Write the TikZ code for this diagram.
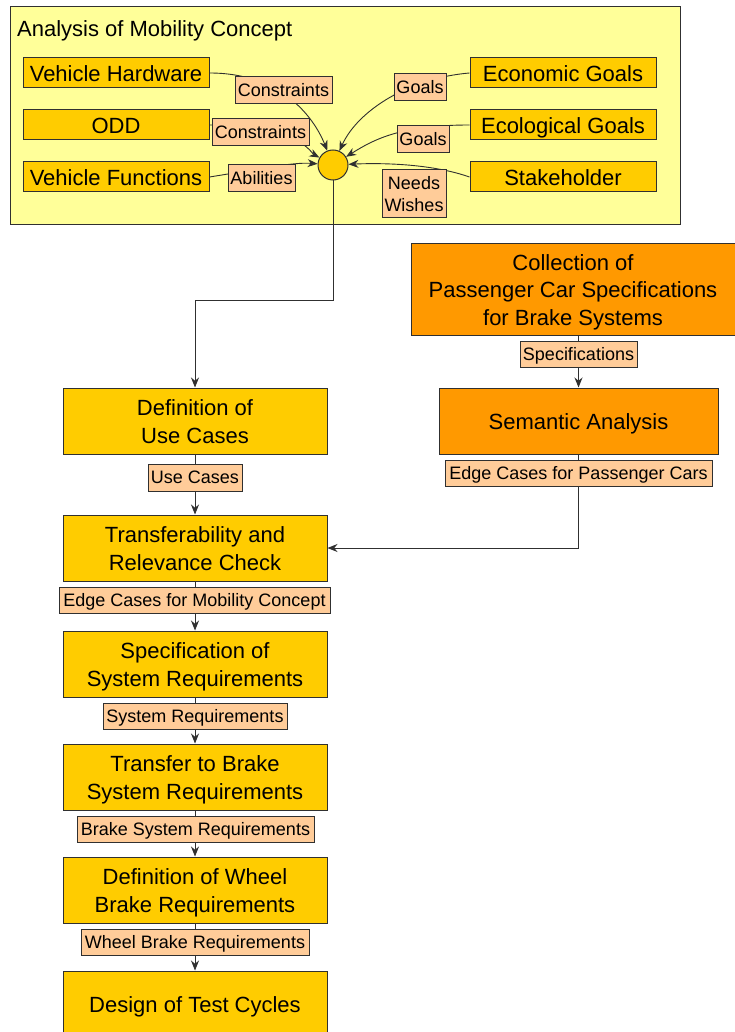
\documentclass[tikz,border=0pt]{standalone}
\usepackage{fontspec}
\setmainfont{Liberation Sans}
\usetikzlibrary{arrows.meta,calc}
\definecolor{panel}{HTML}{FFFF99}
\definecolor{gold}{HTML}{FFCC00}
\definecolor{peach}{HTML}{FFCC99}
\definecolor{amber}{HTML}{FF9900}
\definecolor{ink}{HTML}{303030}
\pgfdeclarelayer{back}
\pgfdeclarelayer{edges}
\pgfsetlayers{back,edges,main}
% centred lines, set slightly below the geometric middle of their box
\newcommand\boxtxt[1]{\raisebox{-3pt}[\height][\depth]{\begin{tabular}{@{}c@{}}#1\end{tabular}}}
\newcommand\tagtxt[1]{\raisebox{-2pt}[\height][\depth]{\begin{tabular}{@{}c@{}}#1\end{tabular}}}

\begin{document}
\begin{tikzpicture}[x=1pt,y=-1pt,
  procbox/.style={draw=ink, line width=1pt, fill=gold, inner sep=1pt,
    font=\fontsize{22}{27.5}\selectfont},
  specbox/.style={procbox, fill=amber},
  flowtag/.style={draw=ink, line width=1pt, fill=peach, inner sep=2pt,
    font=\fontsize{18}{22}\selectfont},
  conn/.style={draw=ink, line width=0.9pt},
  arr/.style={conn, -{Stealth[length=10pt,width=8pt]}},
]
\useasboundingbox (0,0) rectangle (735,1032);

% ---- mobility concept panel ----
\begin{pgfonlayer}{back}
  \node[draw=ink, line width=1pt, fill=panel, minimum width=670pt, minimum height=218pt] (mc) at (345,116) {};
\end{pgfonlayer}
\node[anchor=base west, inner sep=0pt, font=\fontsize{22}{27.5}\selectfont] (title) at (17,36.5) {Analysis of Mobility Concept};

\node[procbox, minimum width=186pt, minimum height=30pt] (vh)  at (116,73)  {\boxtxt{Vehicle Hardware}};
\node[procbox, minimum width=186pt, minimum height=30pt] (odd) at (116,125) {\boxtxt{ODD}};
\node[procbox, minimum width=186pt, minimum height=30pt] (vf)  at (116,177) {\boxtxt{Vehicle Functions}};
\node[procbox, minimum width=186pt, minimum height=30pt] (eco) at (563,73)  {\boxtxt{Economic Goals}};
\node[procbox, minimum width=186pt, minimum height=30pt] (ecl) at (563,125) {\boxtxt{Ecological Goals}};
\node[procbox, minimum width=186pt, minimum height=30pt] (sh)  at (563,177) {\boxtxt{Stakeholder}};
\node[circle, draw=ink, line width=1pt, fill=gold, minimum size=30pt, inner sep=0pt] (dot) at (333,165) {};

% ---- process chain ----
\node[specbox, minimum width=324pt, minimum height=92pt] (coll) at (573,289)
  {\boxtxt{Collection of\\Passenger Car Specifications\\for Brake Systems}};
\node[specbox, minimum width=279pt, minimum height=66pt] (sem) at (578.5,421) {\boxtxt{Semantic Analysis}};

\node[procbox, minimum width=264pt, minimum height=66pt] (def) at (195,421)  {\boxtxt{Definition of\\Use Cases}};
\node[procbox, minimum width=264pt, minimum height=66pt] (tr)  at (195,548)  {\boxtxt{Transferability and\\Relevance Check}};
\node[procbox, minimum width=264pt, minimum height=66pt] (ssr) at (195,664)  {\boxtxt{Specification of\\System Requirements}};
\node[procbox, minimum width=264pt, minimum height=66pt] (tb)  at (195,777)  {\boxtxt{Transfer to Brake\\System Requirements}};
\node[procbox, minimum width=264pt, minimum height=66pt] (dw)  at (195,890)  {\boxtxt{Definition of Wheel\\Brake Requirements}};
\node[procbox, minimum width=264pt, minimum height=66pt] (dt)  at (195,1004) {\boxtxt{Design of Test Cycles}};

% ---- connectors ----
\begin{pgfonlayer}{edges}
  \draw[arr] (vh.east)  .. controls +(70,0)   and +(-20,-50) .. (dot);
  \draw[arr] (odd.east) .. controls +(90,0)   and +(-22,-12) .. (dot);
  \draw[arr] (vf.east)  .. controls +(50,-8)  and +(-40,-3)  .. (dot);
  \draw[arr] (eco.west) .. controls +(-60,5)  and +(25,-55)  .. (dot);
  \draw[arr] (ecl.west) .. controls +(-70,0)  and +(40,-25)  .. (dot);
  \draw[arr] (sh.west)  .. controls +(-40,-14) and +(45,-2)  .. (dot);

  \draw[arr] (dot.south) -- ++(0,120) -| (def.north);
  \draw[arr] (sem.north |- coll.south) -- (sem.north);
  \draw[arr] (sem.south) |- (tr.east);
  \draw[arr] (def.south) -- (tr.north);
  \draw[arr] (tr.south)  -- (ssr.north);
  \draw[arr] (ssr.south) -- (tb.north);
  \draw[arr] (tb.south)  -- (dw.north);
  \draw[arr] (dw.south)  -- (dt.north);
\end{pgfonlayer}

% ---- connector labels ----
\node[flowtag, minimum width=97pt, minimum height=27pt] (lc1) at (283.5,90.5)  {\tagtxt{Constraints}};
\node[flowtag, minimum width=97pt, minimum height=27pt] (lc2) at (260.5,132.5) {\tagtxt{Constraints}};
\node[flowtag, minimum width=67pt, minimum height=27pt] (lab) at (261.5,178.5) {\tagtxt{Abilities}};
\node[flowtag, minimum width=52pt, minimum height=27pt] (lg1) at (420,87.5)    {\tagtxt{Goals}};
\node[flowtag, minimum width=52pt, minimum height=27pt] (lg2) at (423,139.5)   {\tagtxt{Goals}};
\node[flowtag, minimum width=64pt, minimum height=48pt] (lnw) at (414,194)     {\tagtxt{Needs\\Wishes}};

\node[flowtag, minimum width=117pt, minimum height=25pt] (lsp)  at (578.5,354.5) {\tagtxt{Specifications}};
\node[flowtag, minimum width=267pt, minimum height=26pt] (lecp) at (578.5,473)   {\tagtxt{Edge Cases for Passenger Cars}};
\node[flowtag, minimum width=94pt,  minimum height=27pt] (luc)  at (195,477.5)   {\tagtxt{Use Cases}};
\node[flowtag, minimum width=271pt, minimum height=26pt] (lecm) at (194.5,600)   {\tagtxt{Edge Cases for Mobility Concept}};
\node[flowtag, minimum width=184pt, minimum height=25pt] (lsr)  at (195,716.5)   {\tagtxt{System Requirements}};
\node[flowtag, minimum width=237pt, minimum height=25pt] (lbsr) at (195.5,829.5) {\tagtxt{Brake System Requirements}};
\node[flowtag, minimum width=228pt, minimum height=26pt] (lwbr) at (195,942)     {\tagtxt{Wheel Brake Requirements}};
\end{tikzpicture}
\end{document}
